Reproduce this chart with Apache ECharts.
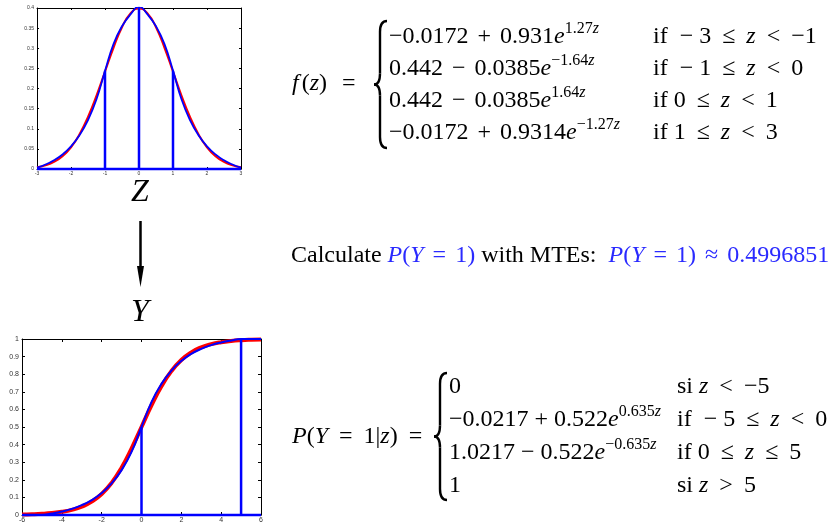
<!DOCTYPE html>
<html>
<head>
<meta charset="utf-8">
<script src="https://cdn.jsdelivr.net/npm/echarts@6/dist/echarts.min.js"></script>
<style>
  html, body { margin: 0; padding: 0; background: #fff; }
  #chart { width: 831px; height: 529px; }
</style>
</head>
<body>
<div id="chart"></div>
<script>
// ---- Upper panel: standard normal density f(z) and its MTE approximation ----
const zTop = [-3, -2.75, -2.5, -2.25, -2, -1.75, -1.5, -1.25, -1, -0.75, -0.5, -0.25, 0,
              0.25, 0.5, 0.75, 1, 1.25, 1.5, 1.75, 2, 2.25, 2.5, 2.75, 3];
const normalPdf = [0.0044, 0.0091, 0.0175, 0.0317, 0.0540, 0.0863, 0.1295, 0.1826, 0.2420, 0.3011, 0.3521, 0.3867, 0.3989,
                   0.3867, 0.3521, 0.3011, 0.2420, 0.1826, 0.1295, 0.0863, 0.0540, 0.0317, 0.0175, 0.0091, 0.0044];
const mtePdf = [0.0034, 0.0111, 0.0217, 0.0362, 0.0562, 0.0837, 0.1214, 0.1731, 0.2435, 0.3103, 0.3546, 0.3840, 0.4035,
                0.3840, 0.3546, 0.3103, 0.2444, 0.1732, 0.1215, 0.0838, 0.0563, 0.0363, 0.0217, 0.0111, 0.0034];
const pdfCutZ = [-1, 0, 1];
const pdfCutValue = [0.2443, 0.4035, 0.2444];
const pdfRange = [-3, 3];

// ---- Lower panel: P(Y = 1 | z), logistic curve and its MTE approximation ----
const zBottom = [-6, -5.5, -5, -4.5, -4, -3.5, -3, -2.5, -2, -1.5, -1, -0.5, 0,
                 0.5, 1, 1.5, 2, 2.5, 3, 3.5, 4, 4.5, 5, 5.5, 6];
const logisticProb = [0.0025, 0.0041, 0.0067, 0.0110, 0.0180, 0.0293, 0.0474, 0.0759, 0.1192, 0.1824, 0.2689, 0.3775, 0.5,
                      0.6225, 0.7311, 0.8176, 0.8808, 0.9241, 0.9526, 0.9707, 0.9820, 0.9890, 0.9933, 0.9959, 0.9975];
const mteProb = [0, 0, 0.0001, 0.0083, 0.0195, 0.0349, 0.0560, 0.0850, 0.1249, 0.1797, 0.2549, 0.3583, 0.5003,
                 0.6417, 0.7451, 0.8203, 0.8751, 0.9150, 0.9440, 0.9651, 0.9805, 0.9917, 0.9999, 1, 1];
const probCutZ = [0, 5];
const probCutValue = [0.5003, 1];
const probRange = [-6, 6];

const SERIF = '"Liberation Serif", "DejaVu Serif", serif';
const BLUE = '#0000ff';
const RED = '#ff0000';
const MATH_BLUE = '#2a2aff';

const zip = (xs, ys) => xs.map((x, i) => [x, ys[i]]);

function frameAxes(gridIndex, range, yMax, xInt, yInt, labelSize, tickLen) {
  const common = {
    gridIndex, type: 'value',
    axisLine: { show: true, onZero: false, lineStyle: { color: '#000', width: 1 } },
    axisTick: { show: true, inside: true, length: tickLen, lineStyle: { color: '#000', width: 1 } },
    splitLine: { show: false }
  };
  const lbl = { fontSize: labelSize, color: '#333', fontFamily: 'Liberation Sans, sans-serif' };
  return {
    x: [
      Object.assign({}, common, { position: 'bottom', min: range[0], max: range[1], interval: xInt,
        axisLabel: Object.assign({ margin: 2 }, lbl) }),
      Object.assign({}, common, { position: 'top', min: range[0], max: range[1], interval: xInt,
        axisLabel: { show: false } })
    ],
    y: [
      Object.assign({}, common, { position: 'left', min: 0, max: yMax, interval: yInt,
        axisLabel: Object.assign({ margin: 3 }, lbl) }),
      Object.assign({}, common, { position: 'right', min: 0, max: yMax, interval: yInt,
        axisLabel: { show: false } })
    ]
  };
}

const topAxes = frameAxes(0, pdfRange, 0.4, 1, 0.05, 5, 2);
const botAxes = frameAxes(1, probRange, 1, 2, 0.1, 7, 3);

function curve(data, axis, color, width, z) {
  return { type: 'line', xAxisIndex: axis, yAxisIndex: axis, data, showSymbol: false, smooth: true,
           lineStyle: { color, width }, z, silent: true };
}
function segment(data, axis, width, clip) {
  return { type: 'line', xAxisIndex: axis, yAxisIndex: axis, data, showSymbol: false, clip,
           lineStyle: { color: BLUE, width }, z: 4, silent: true };
}

// axis index 0 = upper panel, 2 = lower panel (1 and 3 are the mirrored frame axes)
const series = [
  curve(zip(zTop, normalPdf), 0, RED, 2, 2),
  curve(zip(zTop, mtePdf), 0, BLUE, 1.8, 3),
  segment([[pdfRange[0], 0], [pdfRange[1], 0]], 0, 2.5, false),
  ...pdfCutZ.map((z, i) => segment([[z, 0], [z, pdfCutValue[i]]], 0, 2.5, true)),
  curve(zip(zBottom, logisticProb), 2, RED, 4, 2),
  curve(zip(zBottom, mteProb), 2, BLUE, 2, 3),
  segment([[probRange[0], 0], [probRange[1], 0]], 2, 2.5, false),
  ...probCutZ.map((z, i) => segment([[z, 0], [z, probCutValue[i]]], 2, 2.5, true))
];

// ---- Typeset formulas ----
const FS = 24;
const SUP = 16;
const base = { fontFamily: SERIF, fontSize: FS, fill: '#000' };
const rich = {
  n:  base,
  i:  Object.assign({}, base, { fontStyle: 'italic' }),
  f:  Object.assign({}, base, { fontStyle: 'italic', padding: [0, 3, 0, 0] }),
  s:  Object.assign({}, base, { fontSize: SUP, padding: [0, 0, 16, 0] }),
  si: Object.assign({}, base, { fontSize: SUP, fontStyle: 'italic', padding: [0, 0, 16, 0] }),
  b:  Object.assign({}, base, { fill: MATH_BLUE }),
  bi: Object.assign({}, base, { fill: MATH_BLUE, fontStyle: 'italic' })
};
// operator token with extra side bearing, as math spacing around relations/binary ops
function op(sym, pad, blue) {
  const key = (blue ? 'B' : 'K') + pad;
  if (!rich[key]) {
    rich[key] = Object.assign({}, base, { padding: [0, pad, 0, pad] }, blue ? { fill: MATH_BLUE } : {});
  }
  return '{' + key + '| ' + sym + ' }';
}
function tex(x, y, text) {
  return { type: 'text', x, y, silent: true,
           style: { text, rich, verticalAlign: 'middle', align: 'left', fontFamily: SERIF, fontSize: FS } };
}
function brace(x0, y0, y1) {
  const xm = x0 + 6, xr = x0 + 13, ym = (y0 + y1) / 2, r = 11;
  const st = { stroke: '#000', lineWidth: 2.4, fill: null };
  return [
    { type: 'bezierCurve', shape: { x1: xr, y1: y0, cpx1: xm, cpy1: y0, x2: xm, y2: y0 + r }, style: st },
    { type: 'line', shape: { x1: xm, y1: y0 + r, x2: xm, y2: ym - r }, style: st },
    { type: 'bezierCurve', shape: { x1: xm, y1: ym - r, cpx1: xm, cpy1: ym, x2: x0, y2: ym }, style: st },
    { type: 'bezierCurve', shape: { x1: x0, y1: ym, cpx1: xm, cpy1: ym, x2: xm, y2: ym + r }, style: st },
    { type: 'line', shape: { x1: xm, y1: ym + r, x2: xm, y2: y1 - r }, style: st },
    { type: 'bezierCurve', shape: { x1: xm, y1: y1 - r, cpx1: xm, cpy1: y1, x2: xr, y2: y1 }, style: st }
  ].map(e => Object.assign(e, { silent: true }));
}

const topRows = [37, 69, 101, 133];
const botRows = [387, 420, 453, 486];
const topLeft = 389, topCond = 653;
const botLeft = 449, botCond = 677;

const graphic = [
  // density definition
  tex(292, 84, '{f|f}{n|(}{i|z}{n|)}' + op('=', 9)),
  ...brace(374, 21, 148),
  tex(topLeft, topRows[0], '{n|−0.0172}' + op('+', 3) + '{n|0.931}{i|e}{s|1.27}{si|z}'),
  tex(topLeft, topRows[1], '{n|0.442}' + op('−', 3) + '{n|0.0385}{i|e}{s|−1.64}{si|z}'),
  tex(topLeft, topRows[2], '{n|0.442}' + op('−', 3) + '{n|0.0385}{i|e}{s|1.64}{si|z}'),
  tex(topLeft, topRows[3], '{n|−0.0172}' + op('+', 3) + '{n|0.9314}{i|e}{s|−1.27}{si|z}'),
  tex(topCond, topRows[0], '{n|if  − 3}' + op('≤', 5) + '{i|z}' + op('<', 5) + '{n|−1}'),
  tex(topCond, topRows[1], '{n|if  − 1}' + op('≤', 5) + '{i|z}' + op('<', 5) + '{n|0}'),
  tex(topCond, topRows[2], '{n|if 0}' + op('≤', 5) + '{i|z}' + op('<', 5) + '{n|1}'),
  tex(topCond, topRows[3], '{n|if 1}' + op('≤', 5) + '{i|z}' + op('<', 5) + '{n|3}'),
  // result line
  tex(291, 256, '{n|Calculate }{bi|P}{b|(}{bi|Y}' + op('=', 3, true) + '{b|1)}{n| with MTEs:  }{bi|P}{b|(}{bi|Y}'
                + op('=', 3, true) + '{b|1)}' + op('≈', 3, true) + '{b|0.4996851}'),
  // conditional probability definition
  tex(292, 437, '{i|P}{n|(}{i|Y}' + op('=', 5) + '{n|1|}{i|z}{n|)}' + op('=', 5)),
  ...brace(434, 373, 500),
  tex(botLeft, botRows[0], '{n|0}'),
  tex(botLeft, botRows[1], '{n|−0.0217}' + op('+', 0) + '{n|0.522}{i|e}{s|0.635}{si|z}'),
  tex(botLeft, botRows[2], '{n|1.0217}' + op('−', 0) + '{n|0.522}{i|e}{s|−0.635}{si|z}'),
  tex(botLeft, botRows[3], '{n|1}'),
  tex(botCond, botRows[0], '{n|si }{i|z}' + op('<', 5) + '{n|−5}'),
  tex(botCond, botRows[1], '{n|if  − 5}' + op('≤', 5) + '{i|z}' + op('<', 5) + '{n|0}'),
  tex(botCond, botRows[2], '{n|if 0}' + op('≤', 5) + '{i|z}' + op('≤', 5) + '{n|5}'),
  tex(botCond, botRows[3], '{n|si }{i|z}' + op('>', 5) + '{n|5}'),
  // Z -> Y dependency
  { type: 'text', x: 140, y: 193, silent: true,
    style: { text: 'Z', fontFamily: SERIF, fontStyle: 'italic', fontSize: 32, fill: '#000',
             align: 'center', verticalAlign: 'middle' } },
  { type: 'text', x: 140, y: 313, silent: true,
    style: { text: 'Y', fontFamily: SERIF, fontStyle: 'italic', fontSize: 32, fill: '#000',
             align: 'center', verticalAlign: 'middle' } },
  { type: 'line', silent: true, shape: { x1: 140.5, y1: 221, x2: 140.5, y2: 272 },
    style: { stroke: '#000', lineWidth: 2.5 } },
  { type: 'polygon', silent: true, shape: { points: [[137, 266], [144, 266], [140.5, 287]] },
    style: { fill: '#000' } }
];

const chart = echarts.init(document.getElementById('chart'), null, { renderer: 'canvas' });
chart.setOption({
  animation: false,
  backgroundColor: '#fff',
  grid: [
    { left: 37, top: 8, width: 204, height: 161 },
    { left: 22, top: 339, width: 239, height: 176 }
  ],
  xAxis: [...topAxes.x, ...botAxes.x],
  yAxis: [...topAxes.y, ...botAxes.y],
  series,
  graphic
});
</script>
</body>
</html>
